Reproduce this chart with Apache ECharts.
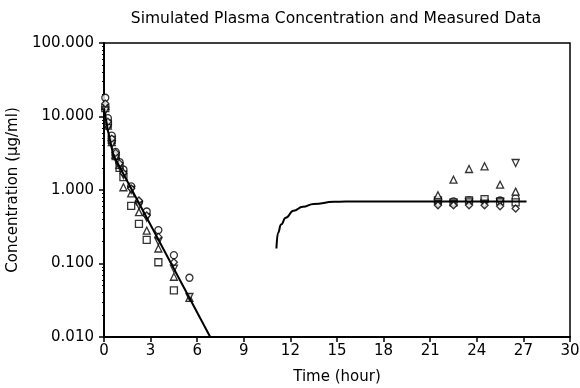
<!DOCTYPE html>
<html>
<head>
    <meta charset="UTF-8">
    <title></title>
    <script type="text/javascript" src="https://cdn.jsdelivr.net/npm/echarts@6/dist/echarts.min.js"></script>
    <style>
        body { margin: 0; background: #fff; }
        #main { width: 580px; height: 388px; }
    </style>
</head>
<body>
<div id="main"></div>
<script>
    // measured time points (hour)
    var tEarly = [0.083, 0.25, 0.5, 0.75, 1, 1.25, 1.75, 2.25, 2.75, 3.5, 4.5, 5.5];
    var tLate = [21.5, 22.5, 23.5, 24.5, 25.5, 26.5];

    // measured concentrations, one array per subject
    var circleEarly = [18, 9.5, 5.5, 3.3, 2.4, 1.9, 1.12, 0.68, 0.51, 0.285, 0.13, 0.064];
    var circleLate = [0.68, 0.70, 0.72, 0.72, 0.72, 0.77];
    var squareEarly = [13, 8, 4.8, 2.9, 2.0, 1.5, 0.61, 0.345, 0.21, 0.104, 0.043, null];
    var squareLate = [0.72, 0.68, 0.72, 0.75, 0.70, 0.68];
    var triUpEarly = [14, 7.5, 4.5, 3.0, 2.2, 1.09, 0.9, 0.5, 0.28, 0.16, 0.066, 0.034];
    var triUpLate = [0.85, 1.38, 1.93, 2.1, 1.18, 0.95];
    var triDownEarly = [12, 7, 4.2, 2.7, 2.1, 1.6, 1.0, 0.62, 0.42, 0.2, 0.085, 0.035];
    var triDownLate = [0.65, 0.65, 0.68, 0.65, 0.68, 2.33];
    var diamondEarly = [15, 8.5, 5, 3.2, 2.3, 1.7, 1.05, 0.72, 0.45, 0.23, 0.104, null];
    var diamondLate = [0.62, 0.62, 0.62, 0.62, 0.60, 0.56];

    // simulated curve
    var simT1 = [0, 0.25, 0.6, 6.84];
    var simC1 = [13, 6.5, 3.0, 0.01];
    var simT2 = [11.1, 11.2, 11.4, 11.7, 12.2, 12.8, 13.5, 14.8, 16.3, 20, 27.2];
    var simC2 = [0.16, 0.26, 0.34, 0.42, 0.52, 0.59, 0.645, 0.69, 0.7, 0.7, 0.7];

    var xTicks = [0, 3, 6, 9, 12, 15, 18, 21, 24, 27, 30];

    function pairs(t, c) {
        var out = [];
        for (var i = 0; i < t.length; i++) {
            if (c[i] != null) out.push([t[i], c[i]]);
        }
        return out;
    }

    function marks(name, symbol, rotate, early, late) {
        return {
            name: name,
            type: 'scatter',
            symbol: symbol,
            symbolRotate: rotate,
            symbolSize: 7,
            itemStyle: { color: '#fff', borderColor: '#000', borderWidth: 1.3 },
            data: pairs(tEarly, early).concat(pairs(tLate, late)),
            z: 3
        };
    }

    var font = '"DejaVu Sans", sans-serif';
    var myChart = echarts.init(document.getElementById('main'));
    myChart.setOption({
        animation: false,
        backgroundColor: '#fff',
        title: {
            text: 'Simulated Plasma Concentration and Measured Data',
            left: 331,
            top: 6,
            textAlign: 'center',
            textStyle: { fontFamily: font, fontSize: 15.5, fontWeight: 'normal', color: '#000' }
        },
        grid: {
            left: 104, right: 10, top: 43, bottom: 51,
            outerBoundsMode: 'none',
            containLabel: false,
            show: true, borderColor: '#000', borderWidth: 1.5, backgroundColor: 'transparent'
        },
        xAxis: {
            type: 'value',
            min: 0, max: 30, interval: 3,
            name: 'Time (hour)',
            nameLocation: 'middle',
            nameGap: 33,
            nameTextStyle: { fontFamily: font, fontSize: 15, color: '#000' },
            axisLine: { lineStyle: { color: '#000', width: 2 } },
            axisTick: { length: 5, inside: false, lineStyle: { color: '#000', width: 1.5 } },
            axisLabel: {
                fontFamily: font, fontSize: 15, color: '#000', margin: 7,
                formatter: function (v) { return xTicks.indexOf(v) >= 0 ? String(v) : ''; }
            },
            splitLine: { show: false }
        },
        yAxis: {
            type: 'log',
            logBase: 10,
            min: 0.01, max: 100,
            name: 'Concentration (\u03bcg/ml)',
            nameLocation: 'middle',
            nameGap: 74,
            nameTextStyle: { fontFamily: font, fontSize: 15, color: '#000' },
            axisLine: { lineStyle: { color: '#000', width: 2 } },
            axisTick: { length: 5, lineStyle: { color: '#000', width: 1.5 } },
            minorTick: { show: true, splitNumber: 9, length: 2, lineStyle: { color: '#000' } },
            axisLabel: {
                fontFamily: font, fontSize: 15, color: '#000', margin: 10,
                formatter: function (v) { return v.toFixed(3); }
            },
            splitLine: { show: false }
        },
        series: [
            {
                type: 'line', data: pairs(simT1, simC1), showSymbol: false,
                lineStyle: { color: '#000', width: 2 }, z: 4
            },
            {
                type: 'line', data: pairs(simT2, simC2), showSymbol: false,
                smooth: 0.5, smoothMonotone: 'x',
                lineStyle: { color: '#000', width: 2 }, z: 4
            },
            marks('s1', 'circle', 0, circleEarly, circleLate),
            marks('s2', 'rect', 0, squareEarly, squareLate),
            marks('s3', 'triangle', 0, triUpEarly, triUpLate),
            marks('s4', 'triangle', 180, triDownEarly, triDownLate),
            marks('s5', 'diamond', 0, diamondEarly, diamondLate)
        ]
    });
</script>
</body>
</html>
